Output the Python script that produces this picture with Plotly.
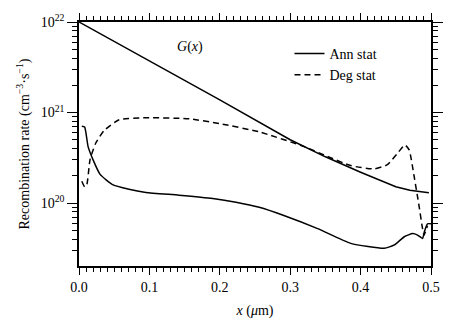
import plotly.graph_objects as go

# G(x) generation profile
g_x = [0.0, 0.1, 0.2, 0.3, 0.35, 0.4, 0.45, 0.47, 0.49, 0.497]
g_y = [1.0e22, 3.72e21, 1.38e21, 5.0e20, 3.24e20, 2.19e20, 1.51e20, 1.38e20, 1.32e20, 1.30e20]

# Ann stat (solid)
ann_x = [0.004, 0.008, 0.013, 0.020, 0.030, 0.047, 0.071, 0.095, 0.142, 0.19, 0.223, 0.256,
         0.291, 0.339, 0.386, 0.4335, 0.448, 0.462, 0.474, 0.481, 0.488, 0.4905, 0.495, 0.50]
ann_y = [7.05e20, 6.9e20, 4.17e20, 3.0e20, 2.07e20, 1.61e20, 1.42e20, 1.31e20, 1.22e20, 1.12e20,
         1.02e20, 8.97e19, 7.28e19, 5.21e19, 3.58e19, 3.16e19, 3.44e19, 4.24e19, 4.60e19, 4.42e19,
         4.06e19, 4.79e19, 5.89e19, 5.89e19]

# Deg stat (dashed)
deg_x = [0.004, 0.008, 0.011, 0.0157, 0.0237, 0.0356, 0.057, 0.095, 0.157, 0.20, 0.256, 0.32,
         0.353, 0.386, 0.419, 0.438, 0.4525, 0.463, 0.469, 0.476, 0.483, 0.488, 0.490, 0.495]
deg_y = [1.74e20, 1.51e20, 1.58e20, 3.02e20, 4.57e20, 6.31e20, 8.32e20, 8.75e20, 8.51e20, 7.53e20,
         6.11e20, 4.20e20, 3.27e20, 2.59e20, 2.38e20, 2.65e20, 3.55e20, 4.37e20, 3.86e20, 1.98e20,
         9.3e19, 5.2e19, 4.4e19, 5.6e19]

x_ticks = [0.0, 0.1, 0.2, 0.3, 0.4, 0.5]
x_ticklabels = ["0.0", "0.1", "0.2", "0.3", "0.4", "0.5"]
y_ticks = [1e20, 1e21, 1e22]
y_ticklabels = ["10<sup>20</sup>", "10<sup>21</sup>", "10<sup>22</sup>"]

FONT = "Liberation Serif"
LW = 1.5

fig = go.Figure()
fig.add_trace(go.Scatter(x=g_x, y=g_y, mode="lines", line=dict(color="black", width=LW),
                         showlegend=False))
fig.add_trace(go.Scatter(x=ann_x, y=ann_y, mode="lines", name="Ann stat",
                         line=dict(color="black", width=LW, shape="spline", smoothing=0.5)))
fig.add_trace(go.Scatter(x=deg_x, y=deg_y, mode="lines", name="Deg stat",
                         line=dict(color="black", width=LW, dash="6px,4px", shape="spline", smoothing=0.5)))

fig.add_annotation(x=0.157, y=21.72, xref="x", yref="y", text="<i>G</i>(<i>x</i>)",
                   showarrow=False, font=dict(family=FONT, size=14, color="black"))

fig.update_layout(
    template="simple_white",
    width=476, height=328,
    margin=dict(l=79, r=45, t=20, b=60),
    paper_bgcolor="white", plot_bgcolor="white",
    font=dict(family=FONT, size=14, color="black"),
    legend=dict(x=0.598, y=0.935, xanchor="left", yanchor="top", bgcolor="rgba(0,0,0,0)",
                font=dict(family=FONT, size=14)),
)
fig.update_xaxes(range=[0, 0.5], tickmode="array", tickvals=x_ticks, ticktext=x_ticklabels,
                 ticks="outside", ticklen=7, tickwidth=1, tickcolor="black", mirror="allticks",
                 showline=True, linecolor="black", linewidth=1.5, showgrid=False, zeroline=False,
                 minor=dict(dtick=0.01, tick0=0, ticks="outside", ticklen=4, tickwidth=1,
                            tickcolor="black", showgrid=False),
                 title=dict(text="<i>x</i> (<i>μ</i>m)", standoff=12, font=dict(size=14)))
fig.update_yaxes(type="log", range=[19.304, 22], tickmode="array", tickvals=y_ticks,
                 ticktext=y_ticklabels, ticks="outside", ticklen=10, tickwidth=1, tickcolor="black",
                 mirror="allticks",
                 showline=True, linecolor="black", linewidth=1.5, showgrid=False, zeroline=False,
                 minor=dict(dtick="D1", ticks="outside", ticklen=5, tickwidth=1,
                            tickcolor="black", showgrid=False),
                 title=dict(text="Recombination rate (cm<sup>−3</sup>·s<sup>−1</sup>)", standoff=8,
                            font=dict(size=14)))

fig.write_html("out.html")
